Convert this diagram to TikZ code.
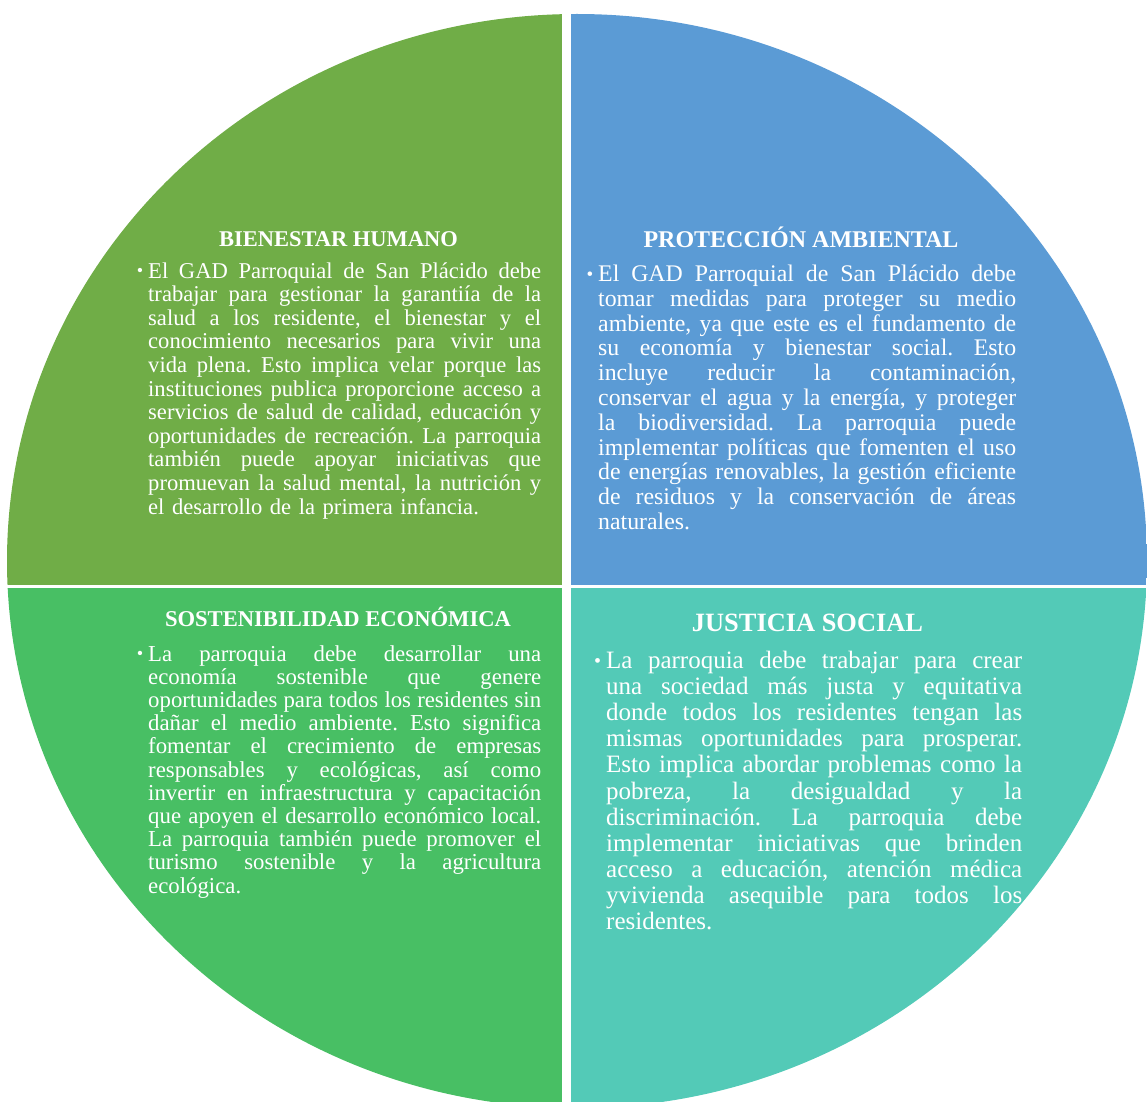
\documentclass[tikz,border=0pt]{standalone}
\usepackage{graphicx}
\usepackage{fontspec}
\setmainfont{Liberation Serif}

\definecolor{bhgreen}{HTML}{70AD47}
\definecolor{pablue}{HTML}{5B9BD5}
\definecolor{segreen}{HTML}{48BF64}
\definecolor{jsteal}{HTML}{53CAB7}

% one justified line of a quadrant text
\newcommand{\jl}[1]{\noindent\hbox to\hsize{\spaceskip=0pt\xspaceskip=0pt\relax #1}\\}
\newcommand{\bul}{\noindent\llap{\raisebox{.06em}{\scalebox{.8}{\textbullet}}\hspace{5pt}}}

\begin{document}
\frenchspacing
\begin{tikzpicture}[x=1pt,y=-1pt,
  ttl/.style={text=white,inner sep=0pt,anchor=base},
  txt/.style={text=white,inner sep=0pt,anchor=base west}]
  \useasboundingbox (0,0) rectangle (1147,1102);
  % quadrants
  \begin{scope}
    \clip (577,561) ellipse [x radius=570pt,y radius=547pt];
    \fill[bhgreen] (0,0) rectangle (562,585);
    \fill[pablue] (570.7,0) rectangle (1147,585);
    \fill[segreen] (0,588.3) rectangle (562,1102);
    \fill[jsteal] (570.7,588.3) rectangle (1147,1102);
  \end{scope}
  % top left
  \node[ttl,font=\bfseries\fontsize{22.5pt}{24pt}\selectfont] (bh) at (338.5,246.5) {BIENESTAR HUMANO};
  \node[txt,text width=393pt,font=\fontsize{22.6pt}{23.6pt}\selectfont] (bhtext) at (148,278) {\bul\jl{El GAD Parroquial de San Plácido debe}\jl{trabajar para gestionar la garantiía de la}\jl{salud a los residente, el bienestar y el}\jl{conocimiento necesarios para vivir una}\jl{vida plena. Esto implica velar porque las}\jl{instituciones publica proporcione acceso a}\jl{servicios de salud de calidad, educación y}\jl{oportunidades de recreación. La parroquia}\jl{también puede apoyar iniciativas que}\jl{promuevan la salud mental, la nutrición y}el desarrollo de la primera infancia.};
  % top right
  \node[ttl,font=\bfseries\fontsize{24pt}{25pt}\selectfont] (pa) at (801,247) {PROTECCIÓN AMBIENTAL};
  \node[txt,text width=418pt,font=\fontsize{23.8pt}{24.8pt}\selectfont] (patext) at (598,281.5) {\bul\jl{El GAD Parroquial de San Plácido debe}\jl{tomar medidas para proteger su medio}\jl{ambiente, ya que este es el fundamento de}\jl{su economía y bienestar social. Esto}\jl{incluye reducir la contaminación,}\jl{conservar el agua y la energía, y proteger}\jl{la biodiversidad. La parroquia puede}\jl{implementar políticas que fomenten el uso}\jl{de energías renovables, la gestión eficiente}\jl{de residuos y la conservación de áreas}naturales.};
  % bottom left
  \node[ttl,font=\bfseries\fontsize{22.6pt}{24pt}\selectfont] (se) at (338,626.5) {SOSTENIBILIDAD ECONÓMICA};
  \node[txt,text width=393pt,font=\fontsize{22.8pt}{23.2pt}\selectfont] (setext) at (148,661) {\bul\jl{La parroquia debe desarrollar una}\jl{economía sostenible que genere}\jl{oportunidades para todos los residentes sin}\jl{dañar el medio ambiente. Esto significa}\jl{fomentar el crecimiento de empresas}\jl{responsables y ecológicas, así como}\jl{invertir en infraestructura y capacitación}\jl{que apoyen el desarrollo económico local.}\jl{La parroquia también puede promover el}\jl{turismo sostenible y la agricultura}ecológica.};
  % bottom right
  \node[ttl,font=\bfseries\fontsize{26.4pt}{27pt}\selectfont] (js) at (807.5,631) {JUSTICIA SOCIAL};
  \node[txt,text width=416pt,font=\fontsize{25pt}{26.1pt}\selectfont] (jstext) at (606,668.5) {\bul\jl{La parroquia debe trabajar para crear}\jl{una sociedad más justa y equitativa}\jl{donde todos los residentes tengan las}\jl{mismas oportunidades para prosperar.}\jl{Esto implica abordar problemas como la}\jl{pobreza, la desigualdad y la}\jl{discriminación. La parroquia debe}\jl{implementar iniciativas que brinden}\jl{acceso a educación, atención médica}\jl{yvivienda asequible para todos los}residentes.};
\end{tikzpicture}
\end{document}
